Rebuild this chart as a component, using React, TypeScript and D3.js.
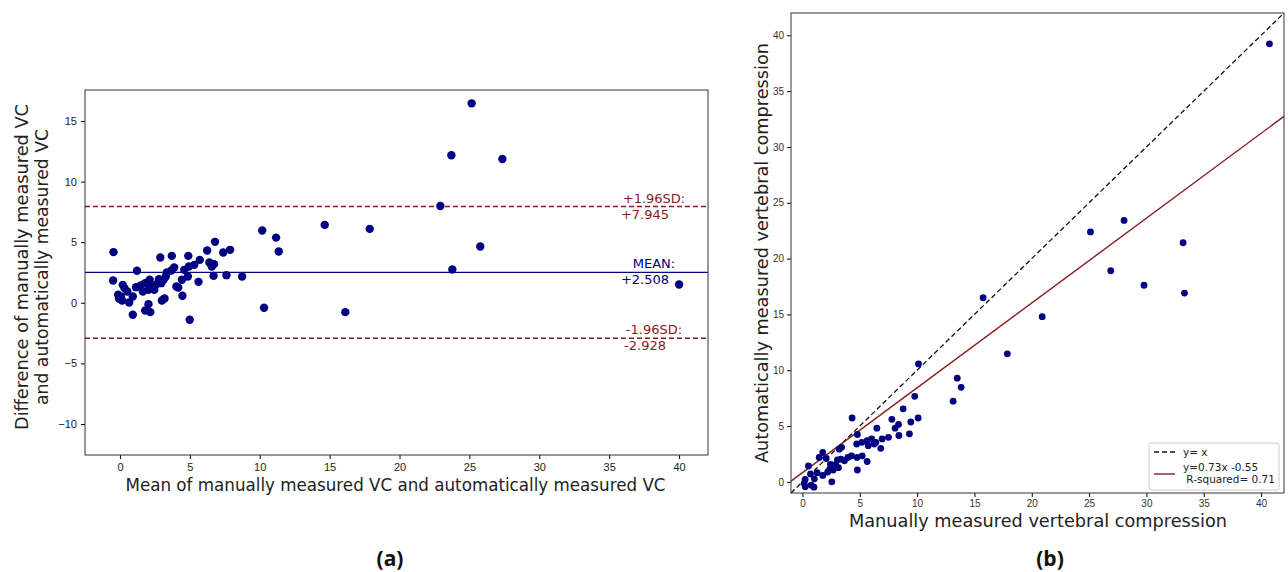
import * as d3 from 'd3';
import React, { useEffect, useRef } from 'react';

// Bland-Altman panel (a)
const baMeans = [25.16, 23.71, 27.36, 22.92, 14.65, 17.87, 10.18, 11.17, 11.36, 25.78, 23.78, 40.0, 10.31, 16.12, 4.99,
  -0.46, -0.49, 6.8, 7.88, 7.39, 6.24, 5.71, 4.89, 3.71, 2.89, 6.4, 6.73, 6.57, 5.32, 4.93, 4.6, 3.88, 3.68, 3.35,
  1.22, 6.7, 7.62, 8.74, 5.62, 4.86, 4.43, 3.28, 3.12, 2.79, 2.96, 2.63, 2.3, 2.13, 1.8, 1.48, 1.15, 2.04, 2.46,
  1.64, 4.04, 4.17, 4.47, 3.19, 3.0, 0.2, 0.33, 0.53, -0.13, 0.07, -0.07, 0.16, 0.66, 0.92, 0.92, 1.81, 2.17, 2.04];
const baDiffs = [16.46, 12.17, 11.87, 7.99, 6.43, 6.1, 5.96, 5.38, 4.23, 4.64, 2.75, 1.51, -0.41, -0.77, -1.4,
  4.18, 1.84, 5.03, 4.37, 4.15, 4.31, 3.54, 3.87, 3.87, 3.74, 3.32, 3.19, 2.99, 3.13, 2.99, 2.72, 2.91, 2.66, 2.5,
  2.64, 2.22, 2.28, 2.17, 1.73, 2.17, 1.9, 2.17, 1.9, 1.95, 1.62, 1.54, 1.35, 1.9, 1.62, 1.43, 1.29, 1.07, 1.07,
  0.93, 1.35, 1.26, 0.58, 0.36, 0.19, 1.48, 1.21, 0.93, 0.66, 0.52, 0.36, 0.19, 0.03, 0.52, -0.99, -0.63, -0.77, -0.11];
const meanDiff = 2.508;
const upperLoA = 7.945;
const lowerLoA = -2.928;
const baXTicks = [0, 5, 10, 15, 20, 25, 30, 35, 40];
const baYTicks = [-10, -5, 0, 5, 10, 15];

// Correlation panel (b)
const manualVC = [40.73, 25.12, 28.05, 33.2, 26.89, 29.79, 33.32, 15.76, 20.91, 17.87, 10.12, 13.5, 13.84, 13.14,
  9.79, 8.78, 10.09, 9.45, 9.33, 7.8, 8.38, 8.08, 8.41, 7.5, 6.95, 6.83, 6.49, 4.33, 4.79, 4.73, 5.18, 5.64, 6.04,
  6.25, 5.73, 6.4, 3.41, 3.2, 5.21, 4.76, 4.27, 3.96, 3.66, 3.35, 3.05, 2.9, 3.14, 2.59, 2.38, 2.68, 2.2, 1.77,
  2.56, 4.79, 5.64, 1.77, 1.46, 2.07, 0.52, 0.7, 1.28, 1.04, 0.24, 0.15, 0.24, 0.76, 1.0, 2.44];
const autoVC = [39.24, 22.39, 23.42, 21.42, 18.91, 17.61, 16.91, 16.49, 14.8, 11.47, 10.56, 9.29, 8.47, 7.23,
  7.66, 6.54, 5.72, 5.36, 4.3, 5.6, 5.14, 4.81, 4.15, 3.99, 3.84, 3.0, 4.81, 5.72, 4.24, 3.39, 3.54, 3.69, 3.84,
  3.39, 3.24, 3.54, 3.09, 2.93, 2.33, 2.18, 2.33, 2.18, 1.88, 2.03, 1.97, 1.57, 1.27, 1.42, 1.12, 1.06, 0.88, 0.57,
  0.0, 1.06, 1.82, 2.63, 2.18, 2.09, 1.42, 0.7, 0.82, 0.27, 0.21, -0.15, -0.45, -0.3, -0.48, 1.57];
const fitSlope = 0.76;
const fitIntercept = 0.82;
const fitLabel = ['y=0.73x -0.55', ' R-squared= 0.71'];
const vcTicks = [0, 5, 10, 15, 20, 25, 30, 35, 40];

const NAVY = '#000080';
const DARKRED = '#8b1a1a';

function App() {
  const ref = useRef(null);

  useEffect(() => {
    const svg = d3.select(ref.current);
    svg.selectAll('*').remove();
    svg.style('font-family', 'DejaVu Sans, sans-serif');

    // ---------- panel (a) ----------
    const a = { left: 85, right: 708, top: 90, bottom: 455 };
    const xa = d3.scaleLinear().domain([-2.5, 42.07]).range([a.left, a.right]);
    const ya = d3.scaleLinear().domain([-12.56, 17.56]).range([a.bottom, a.top]);
    const ga = svg.append('g');

    ga.append('g')
      .attr('transform', 'translate(0,' + a.bottom + ')')
      .call(d3.axisBottom(xa).tickValues(baXTicks).tickSize(4).tickPadding(4))
      .call(g => g.select('.domain').remove())
      .selectAll('text').style('font-size', '11px').attr('fill', '#222');
    ga.append('g')
      .attr('transform', 'translate(' + a.left + ',0)')
      .call(d3.axisLeft(ya).tickValues(baYTicks).tickSize(4).tickPadding(4).tickFormat(d => d < 0 ? '\u2212' + Math.abs(d) : String(d)))
      .call(g => g.select('.domain').remove())
      .selectAll('text').style('font-size', '11px').attr('fill', '#222');

    // limit lines
    [upperLoA, lowerLoA].forEach(v => {
      ga.append('line')
        .attr('x1', a.left).attr('x2', a.right)
        .attr('y1', ya(v)).attr('y2', ya(v))
        .attr('stroke', DARKRED).attr('stroke-width', 1.6).attr('stroke-dasharray', '5,3');
    });
    ga.append('line')
      .attr('x1', a.left).attr('x2', a.right)
      .attr('y1', ya(meanDiff)).attr('y2', ya(meanDiff))
      .attr('stroke', NAVY).attr('stroke-width', 1.4);

    ga.selectAll('circle')
      .data(baMeans)
      .enter()
      .append('circle')
      .attr('cx', d => xa(d))
      .attr('cy', (d, i) => ya(baDiffs[i]))
      .attr('r', 4.2)
      .attr('fill', NAVY);

    // annotations
    const notes = [
      { v: upperLoA, top: '+1.96SD:', bot: '+' + upperLoA.toFixed(3), c: DARKRED },
      { v: meanDiff, top: 'MEAN:', bot: '+' + meanDiff.toFixed(3), c: NAVY },
      { v: lowerLoA, top: '-1.96SD:', bot: lowerLoA.toFixed(3), c: DARKRED },
    ];
    notes.forEach(n => {
      ga.append('text').attr('x', 654).attr('y', ya(n.v) - 4)
        .attr('text-anchor', 'middle').style('font-size', '13px').attr('fill', n.c).text(n.top);
      ga.append('text').attr('x', 645).attr('y', ya(n.v) + 12)
        .attr('text-anchor', 'middle').style('font-size', '13px').attr('fill', n.c).text(n.bot);
    });

    ga.append('rect')
      .attr('x', a.left).attr('y', a.top)
      .attr('width', a.right - a.left).attr('height', a.bottom - a.top)
      .attr('fill', 'none').attr('stroke', '#333').attr('stroke-width', 1);

    ga.append('text')
      .attr('x', (a.left + a.right) / 2 - 1).attr('y', 491)
      .attr('text-anchor', 'middle').style('font-size', '17px').attr('fill', '#222')
      .attr('textLength', 540).attr('lengthAdjust', 'spacingAndGlyphs')
      .text('Mean of manually measured VC and automatically measured VC');
    ga.append('text')
      .attr('transform', 'translate(28,' + 267 + ') rotate(-90)')
      .attr('text-anchor', 'middle').style('font-size', '18px').attr('fill', '#222')
      .attr('textLength', 326).attr('lengthAdjust', 'spacingAndGlyphs')
      .text('Difference of manually measured VC');
    ga.append('text')
      .attr('transform', 'translate(48,' + 267 + ') rotate(-90)')
      .attr('text-anchor', 'middle').style('font-size', '18px').attr('fill', '#222')
      .attr('textLength', 276).attr('lengthAdjust', 'spacingAndGlyphs')
      .text('and automatically measured VC');

    // ---------- panel (b) ----------
    const b = { left: 791, right: 1284, top: 13, bottom: 493 };
    const xb = d3.scaleLinear().domain([-1, 42]).range([b.left, b.right]);
    const yb = d3.scaleLinear().domain([-1, 42]).range([b.bottom, b.top]);
    const gb = svg.append('g');

    gb.append('g')
      .attr('transform', 'translate(0,' + b.bottom + ')')
      .call(d3.axisBottom(xb).tickValues(vcTicks).tickSize(4).tickPadding(3))
      .call(g => g.select('.domain').remove())
      .selectAll('text').style('font-size', '10px').attr('fill', '#333');
    gb.append('g')
      .attr('transform', 'translate(' + b.left + ',0)')
      .call(d3.axisLeft(yb).tickValues(vcTicks).tickSize(4).tickPadding(3))
      .call(g => g.select('.domain').remove())
      .selectAll('text').style('font-size', '10px').attr('fill', '#333');

    gb.append('line')
      .attr('x1', xb(-1)).attr('y1', yb(-1))
      .attr('x2', xb(42)).attr('y2', yb(42))
      .attr('stroke', '#111').attr('stroke-width', 1.3).attr('stroke-dasharray', '5,3');

    const fit = d3.line().x(d => xb(d)).y(d => yb(fitSlope * d + fitIntercept));
    gb.append('path')
      .datum([-1, 42])
      .attr('d', fit)
      .attr('fill', 'none').attr('stroke', DARKRED).attr('stroke-width', 1.4);

    gb.selectAll('circle')
      .data(manualVC)
      .enter()
      .append('circle')
      .attr('cx', d => xb(d))
      .attr('cy', (d, i) => yb(autoVC[i]))
      .attr('r', 3.4)
      .attr('fill', NAVY);

    gb.append('rect')
      .attr('x', b.left).attr('y', b.top)
      .attr('width', b.right - b.left).attr('height', b.bottom - b.top)
      .attr('fill', 'none').attr('stroke', '#333').attr('stroke-width', 1);

    // legend
    const lg = gb.append('g').attr('transform', 'translate(1149,443)');
    lg.append('rect').attr('width', 130).attr('height', 47).attr('rx', 2)
      .attr('fill', 'white').attr('stroke', '#ccc');
    lg.append('line').attr('x1', 5).attr('x2', 26).attr('y1', 9).attr('y2', 9)
      .attr('stroke', '#111').attr('stroke-width', 1.3).attr('stroke-dasharray', '5,3');
    lg.append('text').attr('x', 34).attr('y', 13).style('font-size', '10.5px').attr('fill', '#222').text('y= x');
    lg.append('line').attr('x1', 5).attr('x2', 26).attr('y1', 31).attr('y2', 31)
      .attr('stroke', DARKRED).attr('stroke-width', 1.4);
    lg.append('text').attr('x', 34).attr('y', 28).style('font-size', '10.5px').attr('fill', '#222').text(fitLabel[0]);
    lg.append('text').attr('x', 34).attr('y', 40).style('font-size', '10.5px').attr('fill', '#222')
      .attr('xml:space', 'preserve').style('white-space', 'pre').text(fitLabel[1]);

    gb.append('text')
      .attr('x', 1038).attr('y', 527)
      .attr('text-anchor', 'middle').style('font-size', '18px').attr('fill', '#222')
      .attr('textLength', 378).attr('lengthAdjust', 'spacingAndGlyphs')
      .text('Manually measured vertebral compression');
    gb.append('text')
      .attr('transform', 'translate(768,253) rotate(-90)')
      .attr('text-anchor', 'middle').style('font-size', '18px').attr('fill', '#222')
      .attr('textLength', 420).attr('lengthAdjust', 'spacingAndGlyphs')
      .text('Automatically measured vertebral compression');

    // captions
    svg.append('text').attr('x', 390).attr('y', 566).attr('text-anchor', 'middle')
      .style('font-family', 'Open Sans, sans-serif').style('font-weight', 'bold').style('font-size', '21px')
      .attr('fill', '#111').text('(a)');
    svg.append('text').attr('x', 1050).attr('y', 566).attr('text-anchor', 'middle')
      .style('font-family', 'Open Sans, sans-serif').style('font-weight', 'bold').style('font-size', '21px')
      .attr('fill', '#111').text('(b)');
  }, []);

  return (
    <svg ref={ref} width={1288} height={572}
      style={{ position: 'absolute', left: 0, top: 0, background: 'white' }} />
  );
}

export default App;
